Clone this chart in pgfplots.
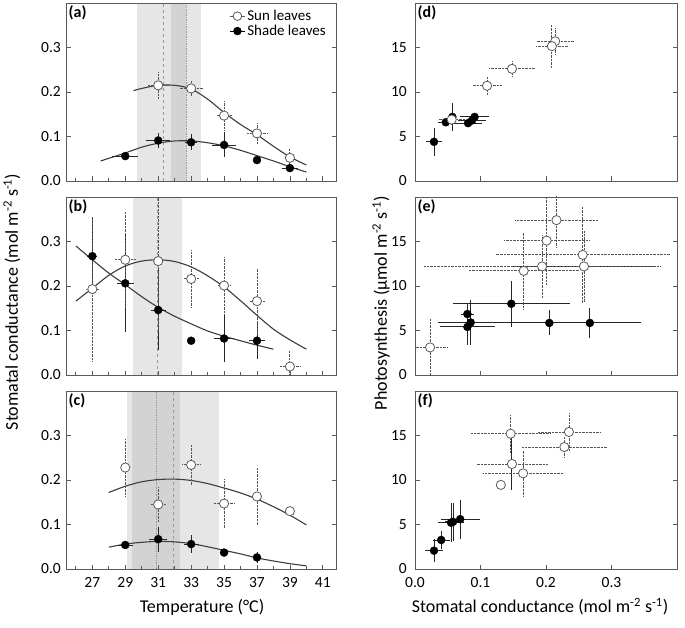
\documentclass[border=0pt]{standalone}
\usepackage{fontspec}
\setmainfont{Carlito}
\usepackage{pgfplots}
\pgfplotsset{compat=1.18}

\definecolor{curve}{HTML}{3C3C3C}
\definecolor{frame}{HTML}{5A5A5A}
\definecolor{bandlight}{HTML}{E6E6E6}
\definecolor{banddark}{HTML}{D3D3D3}
\definecolor{sunerr}{HTML}{555555}
\definecolor{optline}{HTML}{9A9A9A}

\tikzset{plab/.style={anchor=north west, inner sep=0pt, xshift=2.5pt, yshift=-2.5pt,
    font=\bfseries\fontsize{16}{18}\selectfont}}

\pgfplotsset{
  panel/.style={
    scale only axis, height=178pt, axis on top,
    axis line style={frame, line width=0.9pt},
    tick style={frame, line width=0.8pt},
    tick align=inside, major tick length=4.5pt, minor tick length=3pt,
    xtick pos=bottom, ytick pos=both,
    ticklabel style={font=\fontsize{15.5}{17}\selectfont, inner sep=1pt},
    xticklabel style={yshift=-7pt},
    yticklabel style={xshift=-4pt},
    /pgf/number format/assume math mode=true,
  },
  leftpanel/.style={panel, width=270pt, xmin=25.4, xmax=41.8, ymin=0, ymax=0.4,
    xtick={27,29,...,41}, minor xtick={26,27,...,41}, ytick={0,0.1,0.2,0.3},
    yticklabel style={/pgf/number format/fixed, /pgf/number format/fixed zerofill,
      /pgf/number format/precision=1},
  },
  rightpanel/.style={panel, width=262pt, xmin=0, xmax=0.4, ymin=0, ymax=20,
    xtick={0,0.1,0.2,0.3}, ytick={0,5,10,15},
    yticklabel style={xshift=-3pt},
    xticklabel style={/pgf/number format/fixed, /pgf/number format/fixed zerofill,
      /pgf/number format/precision=1},
  },
  sun/.style={only marks, mark=*, mark size=4.6pt,
    mark options={fill=white, draw=frame, line width=0.8pt, solid},
    error bars/x dir=both, error bars/x explicit,
    error bars/y dir=both, error bars/y explicit, error bars/error mark=none,
    error bars/error bar style={densely dotted, sunerr, line width=0.85pt}},
  shade/.style={only marks, mark=*, mark size=4pt,
    mark options={fill=black, draw=black},
    error bars/x dir=both, error bars/x explicit,
    error bars/y dir=both, error bars/y explicit, error bars/error mark=none,
    error bars/error bar style={solid, black!85, line width=0.9pt}},
  fit/.style={curve, line width=1.1pt, smooth, mark=none},
}

\begin{document}
\begin{tikzpicture}
\path[use as bounding box] (0,0) rectangle (685pt,-628pt);

% ---------- (a) ----------
\begin{axis}[leftpanel, at={(66pt,-181pt)}, anchor=south west, xticklabels={},
  legend style={at={(1,1)}, anchor=north east, xshift=-5pt, yshift=-3pt,
    draw=none, fill=none, row sep=-1pt, font=\fontsize{15}{16}\selectfont},
  legend cell align=left,
  legend image code/.code={\draw[mark repeat=2,mark phase=2,#1]
    plot coordinates {(0pt,0pt) (7.5pt,0pt) (15pt,0pt)};}]
\addlegendimage{mark=*, mark size=4.3pt, mark options={fill=white, draw=frame}, frame, line width=0.8pt}
\addlegendentry{Sun leaves}
\addlegendimage{mark=*, mark size=3.8pt, black, line width=0.8pt}
\addlegendentry{Shade leaves}
\fill[bandlight] (axis cs:29.7,0) rectangle (axis cs:33.6,0.4);
\fill[banddark] (axis cs:31.8,0) rectangle (axis cs:32.7,0.4);
\draw[dashed, optline, line width=0.7pt] (axis cs:31.3,0) -- (axis cs:31.3,0.4);
\draw[densely dotted, optline, line width=0.7pt] (axis cs:32.7,0) -- (axis cs:32.7,0.4);
\addplot[fit, forget plot] coordinates {(29.5,0.203) (30,0.208) (31,0.215) (32,0.215)
  (33,0.207) (34,0.184) (35,0.154) (36,0.127) (37,0.104) (38,0.078) (39,0.054) (40,0.036)};
\addplot[fit, forget plot] coordinates {(27.5,0.045) (28,0.051) (29,0.063) (30,0.076)
  (31,0.085) (32,0.090) (33,0.090) (34,0.086) (35,0.079) (36,0.069) (37,0.057)
  (38,0.045) (39,0.032) (40,0.020)};
\addplot[shade, forget plot] coordinates {
  (29,0.056) +- (0.8,0.005)
  (31,0.091) +- (0.73,0.016)
  (33,0.087) +- (0.35,0.018)
  (35,0.081) +- (0.75,0.028)
  (37,0.047) +- (0,0)
  (39,0.029) +- (0.5,0.006)};
\addplot[sun, forget plot] coordinates {
  (31,0.215) +- (0.6,0.03)
  (33,0.208) +- (0.7,0.016)
  (35,0.147) +- (0.5,0.034)
  (37,0.107) +- (0.6,0.025)
  (39,0.052) +- (0.3,0.02)};
\node[plab] at (rel axis cs:0,1) {(a)};
\end{axis}

% ---------- (b) ----------
\begin{axis}[leftpanel, at={(66pt,-375pt)}, anchor=south west, xticklabels={}]
\fill[bandlight] (axis cs:29.45,0) rectangle (axis cs:32.45,0.4);
\draw[dashed, optline, line width=0.7pt] (axis cs:30.95,0) -- (axis cs:30.95,0.4);
\addplot[fit] coordinates {(26,0.166) (27,0.195) (28,0.224) (29,0.245) (30,0.256)
  (31,0.259) (32,0.255) (33,0.243) (34,0.223) (35,0.198) (36,0.167) (37,0.134)
  (38,0.103) (39,0.079) (40,0.058)};
\addplot[fit] coordinates {(26,0.290) (27,0.259) (28,0.229) (29,0.203) (30,0.176)
  (31,0.152) (32,0.132) (33,0.115) (34,0.099) (35,0.087) (36,0.077) (37,0.067) (38,0.058)};
\addplot[shade] coordinates {
  (27,0.267) +- (0.3,0.085)
  (29,0.206) +- (0.5,0.11)
  (31,0.146) +- (0.45,0.09)
  (33,0.077) +- (0,0)
  (35,0.082) +- (0.6,0.052)
  (37,0.077) +- (0.5,0.04)};
\addplot[sun] coordinates {
  (27,0.193) +- (0.4,0.163)
  (29,0.259) +- (0.6,0.11)
  (31,0.256) +- (0.3,0.16)
  (33,0.216) +- (0.5,0.064)
  (35,0.201) +- (0.4,0.065)
  (37,0.166) +- (0.5,0.075)
  (39,0.019) +- (0.65,0.036)};
\node[plab] at (rel axis cs:0,1) {(b)};
\end{axis}

% ---------- (c) ----------
\begin{axis}[leftpanel, at={(66pt,-569pt)}, anchor=south west]
\fill[bandlight] (axis cs:29.1,0) rectangle (axis cs:34.7,0.4);
\fill[banddark] (axis cs:29.4,0) rectangle (axis cs:32.3,0.4);
\draw[densely dotted, optline, line width=0.7pt] (axis cs:30.87,0) -- (axis cs:30.87,0.4);
\draw[dashed, optline, line width=0.7pt] (axis cs:31.92,0) -- (axis cs:31.92,0.4);
\addplot[fit] coordinates {(28,0.172) (29,0.186) (30,0.196) (31,0.201) (32,0.202)
  (33,0.199) (34,0.192) (35,0.182) (36,0.171) (37,0.157) (38,0.140) (39,0.121) (40,0.099)};
\addplot[fit] coordinates {(28,0.049) (29,0.056) (30,0.060) (31,0.062) (32,0.061)
  (33,0.057) (34,0.050) (35,0.042) (36,0.034) (37,0.025) (38,0.018) (39,0.012) (40,0.007)};
\addplot[shade] coordinates {
  (29,0.054) +- (0.45,0.01)
  (31,0.067) +- (0.55,0.028)
  (33,0.056) +- (0.45,0.02)
  (35,0.037) +- (0,0.008)
  (37,0.026) +- (0,0.012)};
\addplot[sun] coordinates {
  (29,0.228) +- (0,0.065)
  (31,0.145) +- (0.5,0.04)
  (33,0.234) +- (0.55,0.045)
  (35,0.147) +- (0.6,0.056)
  (37,0.163) +- (0,0.063)
  (39,0.130) +- (0,0)};
\node[plab] at (rel axis cs:0,1) {(c)};
\end{axis}

% ---------- (d) ----------
\begin{axis}[rightpanel, at={(415pt,-181pt)}, anchor=south west, xticklabels={}]
\addplot[shade] coordinates {
  (0.029,4.4) +- (0.012,1.6)
  (0.047,6.6) +- (0.012,0.4)
  (0.057,7.2) +- (0.005,1.6)
  (0.081,6.5) +- (0.021,0.3)
  (0.087,6.8) +- (0.022,0.3)
  (0.091,7.2) +- (0.022,0.3)};
\addplot[sun] coordinates {
  (0.214,15.7) +- (0.028,1.5)
  (0.209,15.15) +- (0.025,2.5)
  (0.148,12.6) +- (0.035,0.9)
  (0.110,10.7) +- (0.023,1.0)
  (0.056,6.9) +- (0.02,0.5)};
\node[plab] at (rel axis cs:0,1) {(d)};
\end{axis}

% ---------- (e) ----------
\begin{axis}[rightpanel, at={(415pt,-375pt)}, anchor=south west, xticklabels={}]
\addplot[shade] coordinates {
  (0.147,8.0) +- (0.089,2.6)
  (0.205,5.85) +- (0.105,1.4)
  (0.267,5.85) +- (0.078,1.7)
  (0.080,6.85) +- (0.01,1.2)
  (0.085,5.9) +- (0.05,2.5)
  (0.080,5.4) +- (0.042,2.0)};
\addplot[only marks, mark=none, error bars/x dir=both, error bars/x explicit,
  error bars/error mark=none, error bars/error bar style={solid, black!85, line width=0.9pt}]
  coordinates {(0.258,12.2) +- (0.11,0)};
\addplot[sun] coordinates {
  (0.216,17.4) +- (0.063,3)
  (0.201,15.1) +- (0.065,5)
  (0.256,13.5) +- (0.133,5.4)
  (0.258,12.2) +- (0,4)
  (0.194,12.2) +- (0.18,3.6)
  (0.166,11.7) +- (0.085,4.3)
  (0.023,3.1) +- (0.027,3.3)};
\node[plab] at (rel axis cs:0,1) {(e)};
\end{axis}

% ---------- (f) ----------
\begin{axis}[rightpanel, at={(415pt,-569pt)}, anchor=south west]
\addplot[shade] coordinates {
  (0.029,2.06) +- (0.014,1.3)
  (0.040,3.26) +- (0.013,1.05)
  (0.055,5.2) +- (0.02,2.2)
  (0.058,5.3) +- (0.012,2.1)
  (0.069,5.6) +- (0.03,2.2)};
\addplot[only marks, mark=none, error bars/y dir=both, error bars/y explicit,
  error bars/error mark=none, error bars/error bar style={solid, black!85, line width=0.9pt}]
  coordinates {(0.148,11.95) +- (0,3.05)};
\addplot[sun] coordinates {
  (0.146,15.2) +- (0.061,2.2)
  (0.235,15.4) +- (0.048,2.1)
  (0.228,13.7) +- (0.066,1.2)
  (0.148,11.8) +- (0.054,0)
  (0.165,10.75) +- (0.062,2.6)
  (0.131,9.45) +- (0,0)};
\node[plab] at (rel axis cs:0,1) {(f)};
\end{axis}

% ---------- shared labels ----------
\node[rotate=90, font=\fontsize{18}{20}\selectfont] at (12pt,-302pt)
  {Stomatal conductance (mol m\textsuperscript{-2} s\textsuperscript{-1})};
\node[rotate=90, font=\fontsize{18}{20}\selectfont] at (381pt,-303pt)
  {Photosynthesis (µmol m\textsuperscript{-2} s\textsuperscript{-1})};
\node[font=\fontsize{18}{20}\selectfont] at (202pt,-607pt) {Temperature (°C)};
\node[font=\fontsize{18}{20}\selectfont] at (540pt,-607pt)
  {Stomatal conductance (mol m\textsuperscript{-2} s\textsuperscript{-1})};
\end{tikzpicture}
\end{document}
